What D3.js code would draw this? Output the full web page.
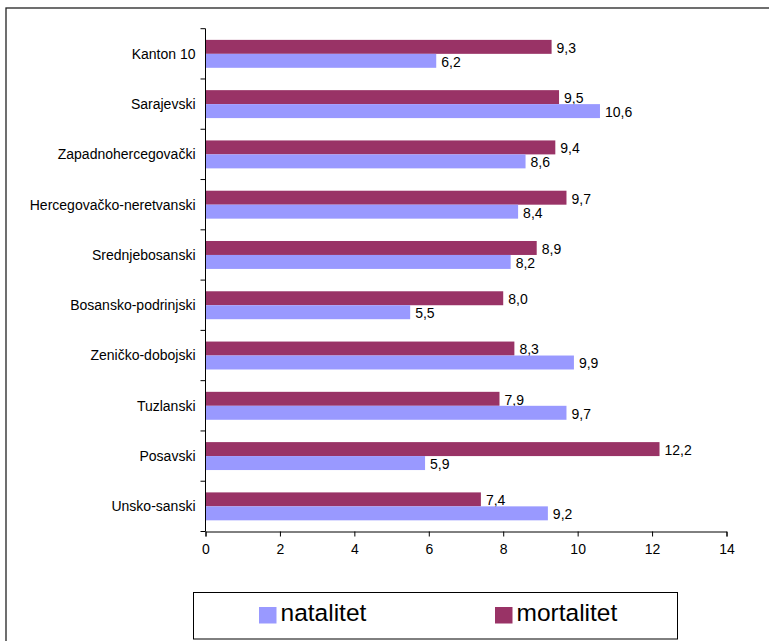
<!DOCTYPE html>
<html>
<head>
<meta charset="utf-8">
<script src="https://cdn.jsdelivr.net/npm/d3@7"></script>
<style>
  html, body { margin: 0; padding: 0; background: #fff; }
  svg { display: block; font-family: "Liberation Sans", Arial, sans-serif; }
</style>
</head>
<body>
<svg id="chart" width="769" height="641"></svg>
<script>
// Cantons, listed top to bottom
const cantons = [
  "Kanton 10",
  "Sarajevski",
  "Zapadnohercegovački",
  "Hercegovačko-neretvanski",
  "Srednjebosanski",
  "Bosansko-podrinjski",
  "Zeničko-dobojski",
  "Tuzlanski",
  "Posavski",
  "Unsko-sanski"
];
// Rates per 1000 inhabitants
const natalitet  = [6.2, 10.6, 8.6, 8.4, 8.2, 5.5, 9.9, 9.7, 5.9, 9.2];
const mortalitet = [9.3, 9.5, 9.4, 9.7, 8.9, 8.0, 8.3, 7.9, 12.2, 7.4];
const seriesNames = ["natalitet", "mortalitet"];
const xTicks = [0, 2, 4, 6, 8, 10, 12, 14];

const colors = { natalitet: "#9999FF", mortalitet: "#993366" };
const fmt = v => d3.format(".1f")(v).replace(".", ",");

const svg = d3.select("#chart");

// outer frame (runs off the right and bottom edges)
svg.append("rect")
  .attr("x", 6).attr("y", 8)
  .attr("width", 800).attr("height", 700)
  .attr("fill", "none").attr("stroke", "#222").attr("stroke-width", 1.3);

const plot = { left: 205.5, right: 726.5, top: 28.7, bottom: 531.5 };

const x = d3.scaleLinear().domain([0, 14]).range([plot.left, plot.right]);
const y = d3.scaleBand().domain(cantons).range([plot.top, plot.bottom]);
// mortalitet drawn above natalitet in each band
const inner = d3.scaleBand().domain(["mortalitet", "natalitet"])
  .range([0, y.bandwidth()]).paddingOuter(0.8).paddingInner(0);

const rows = cantons.map((c, i) => ({ c, natalitet: natalitet[i], mortalitet: mortalitet[i] }));

// bars and value labels
const groups = svg.append("g").selectAll("g").data(rows).join("g")
  .attr("transform", d => `translate(0,${y(d.c)})`);

["mortalitet", "natalitet"].forEach(s => {
  groups.append("rect")
    .attr("x", x(0))
    .attr("y", inner(s))
    .attr("width", d => x(d[s]) - x(0))
    .attr("height", inner.bandwidth())
    .attr("fill", colors[s]);
  groups.append("text")
    .attr("x", d => x(d[s]) + 5)
    .attr("y", inner(s) + inner.bandwidth() / 2 + 1)
    .attr("dy", "0.35em")
    .attr("font-size", 14)
    .attr("fill", "#000")
    .text(d => fmt(d[s]));
});

// axes
const xAxis = d3.axisBottom(x).tickValues(xTicks).tickSize(5).tickFormat(d => d);
const gx = svg.append("g").attr("transform", `translate(0,${plot.bottom})`).call(xAxis);
gx.select(".domain").attr("stroke", "#000");
gx.selectAll(".tick line").attr("stroke", "#000");
gx.selectAll(".tick text").attr("font-size", 14).attr("fill", "#000").attr("dy", "1.05em")
  .attr("font-family", "\"Liberation Sans\", Arial, sans-serif");

// y axis: line with tick marks at band boundaries
const gy = svg.append("g");
gy.append("line")
  .attr("x1", plot.left).attr("x2", plot.left)
  .attr("y1", plot.top).attr("y2", plot.bottom)
  .attr("stroke", "#000");
const bounds = cantons.map(c => y(c)).concat([plot.bottom]);
gy.selectAll("line.tk").data(bounds).join("line").attr("class", "tk")
  .attr("x1", plot.left - 5).attr("x2", plot.left)
  .attr("y1", d => d).attr("y2", d => d).attr("stroke", "#000");
gy.selectAll("text").data(cantons).join("text")
  .attr("x", 195.5)
  .attr("y", d => y(d) + y.bandwidth() / 2)
  .attr("dy", "0.35em")
  .attr("text-anchor", "end")
  .attr("font-size", 14)
  .attr("fill", "#000")
  .text(d => d);

// legend
const lg = svg.append("g");
lg.append("rect")
  .attr("x", 193.5).attr("y", 592.5).attr("width", 484).attr("height", 46.5)
  .attr("fill", "#fff").attr("stroke", "#000").attr("stroke-width", 1);
const legendPos = { natalitet: 259, mortalitet: 495 };
seriesNames.forEach(s => {
  lg.append("rect")
    .attr("x", legendPos[s]).attr("y", 607)
    .attr("width", 17.5).attr("height", 16.5)
    .attr("fill", colors[s]);
  lg.append("text")
    .attr("x", legendPos[s] + 21.5).attr("y", 620.7)
    .attr("font-size", 24.5)
    .attr("fill", "#000")
    .text(s);
});
</script>
</body>
</html>
